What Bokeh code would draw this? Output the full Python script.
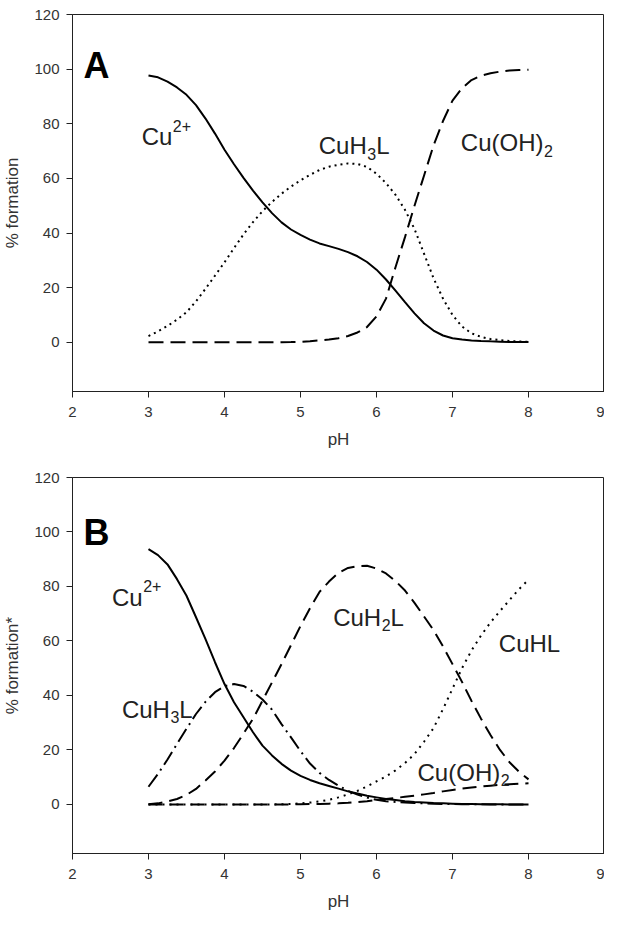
from bokeh.plotting import figure
from bokeh.layouts import column
from bokeh.models import Range1d, FixedTicker, ColumnDataSource
from bokeh.embed import file_html
from bokeh.resources import INLINE
from bokeh.core.properties import value

# ---------------- data (pH grid shared by all curves) ----------------
ph_grid = [3.0, 3.125, 3.25, 3.375, 3.5, 3.625, 3.75, 3.875, 4.0, 4.125,
           4.25, 4.375, 4.5, 4.625, 4.75, 4.875, 5.0, 5.125, 5.25, 5.375,
           5.5, 5.625, 5.75, 5.875, 6.0, 6.125, 6.25, 6.375, 6.5, 6.625,
           6.75, 6.875, 7.0, 7.125, 7.25, 7.375, 7.5, 7.625, 7.75, 7.875, 8.0]

# ---------------- panel A ----------------
a_cu = [97.7, 97.0, 95.4, 93.3, 90.6, 86.8, 81.9, 76.4, 70.5, 65.2,
        60.2, 55.5, 51.2, 47.3, 43.9, 41.3, 39.3, 37.6, 36.2, 35.2,
        34.2, 33.0, 31.5, 29.4, 26.6, 23.0, 18.9, 14.7, 10.6, 7.0,
        4.3, 2.5, 1.5, 1.0, 0.7, 0.5, 0.35, 0.25, 0.15, 0.1, 0.1]
a_cuh3l = [2.3, 4.0, 6.0, 8.3, 11.0, 15.0, 19.6, 24.4, 29.3, 34.5,
           39.5, 44.0, 48.0, 51.4, 54.4, 57.0, 59.3, 61.3, 63.1, 64.3,
           65.0, 65.5, 65.3, 64.2, 61.7, 58.3, 54.0, 48.5, 41.5, 32.5,
           23.5, 16.0, 10.0, 5.8, 3.3, 2.0, 1.2, 0.8, 0.5, 0.3, 0.2]
a_cuoh2 = [0.0, 0.0, 0.0, 0.0, 0.0, 0.0, 0.0, 0.0, 0.0, 0.0,
           0.0, 0.0, 0.0, 0.0, 0.05, 0.1, 0.2, 0.4, 0.7, 1.0,
           1.5, 2.3, 3.6, 5.6, 9.5, 16.0, 27.5, 38.5, 50.0, 61.0,
           72.0, 81.0, 88.5, 93.0, 96.0, 97.6, 98.5, 99.1, 99.5, 99.7, 99.8]

# ---------------- panel B ----------------
b_cu = [93.7, 91.5, 88.1, 82.7, 76.6, 68.7, 60.7, 52.2, 44.2, 37.5,
        32.0, 26.5, 21.6, 18.0, 14.9, 12.4, 10.5, 9.0, 7.8, 6.8,
        5.8, 4.8, 4.0, 3.2, 2.6, 2.0, 1.6, 1.2, 0.9, 0.7,
        0.5, 0.4, 0.3, 0.2, 0.15, 0.1, 0.1, 0.05, 0.0, 0.0, 0.0]
b_cuh3l = [6.5, 11.2, 16.5, 22.2, 27.8, 33.2, 37.7, 41.2, 43.4, 44.2,
           43.5, 41.4, 38.5, 34.8, 29.5, 24.6, 19.6, 15.0, 11.6, 9.0,
           6.9, 5.0, 3.6, 2.5, 1.7, 1.2, 0.9, 0.7, 0.5, 0.4,
           0.3, 0.2, 0.2, 0.1, 0.1, 0.1, 0.0, 0.0, 0.0, 0.0, 0.0]
b_cuh2l = [0.1, 0.4, 1.1, 2.0, 3.5, 5.7, 8.8, 12.1, 16.1, 20.7,
           26.0, 31.4, 38.1, 44.8, 51.5, 58.5, 65.5, 72.0, 78.0, 81.8,
           85.0, 86.8, 87.5, 87.6, 86.6, 84.8, 82.0, 78.5, 74.0, 69.0,
           64.0, 58.0, 51.5, 45.0, 38.0, 31.5, 25.5, 20.0, 15.5, 12.0, 9.2]
b_cuhl = [0.0, 0.0, 0.0, 0.0, 0.0, 0.0, 0.0, 0.0, 0.0, 0.0,
          0.0, 0.0, 0.0, 0.0, 0.1, 0.2, 0.4, 0.7, 1.1, 1.7,
          2.6, 3.7, 5.0, 6.6, 8.5, 10.3, 12.5, 15.2, 18.5, 23.0,
          28.0, 35.0, 42.5, 50.0, 56.5, 62.0, 66.8, 71.0, 75.0, 79.0, 82.5]
b_cuoh2 = [0.0, 0.0, 0.0, 0.0, 0.0, 0.0, 0.0, 0.0, 0.0, 0.0,
           0.0, 0.0, 0.0, 0.0, 0.0, 0.0, 0.1, 0.15, 0.2, 0.3,
           0.4, 0.6, 0.9, 1.2, 1.6, 2.0, 2.4, 2.8, 3.2, 3.7,
           4.2, 4.8, 5.3, 5.8, 6.2, 6.6, 6.9, 7.2, 7.4, 7.6, 7.8]

x_ticks = [2, 3, 4, 5, 6, 7, 8, 9]
y_ticks = [0, 20, 40, 60, 80, 100, 120]

# species labels: (main text, sub/superscript, tail text)
a_names = [("Cu", "2+", ""), ("CuH", "3", "L"), ("Cu(OH)", "2", "")]
a_name_x = [2.91, 5.24, 7.11]
a_name_y = [75.3, 71.9, 73.1]

b_names = [("Cu", "2+", ""), ("CuH", "3", "L"), ("CuH", "2", "L"),
           ("CuHL", "", ""), ("Cu(OH)", "2", "")]
b_name_x = [2.52, 2.65, 5.43, 7.61, 6.54]
b_name_y = [76.0, 35.0, 68.7, 58.9, 11.8]

FONT = "Liberation Sans"
TXT = "#333333"
BIG = 24     # px, species labels
SMALL = 16   # px, sub/superscripts
# Arial / Liberation Sans advance widths (em)
ADV = {"C": 0.722, "u": 0.556, "H": 0.722, "L": 0.556, "(": 0.333,
       "O": 0.778, ")": 0.333, "2": 0.556, "3": 0.556, "+": 0.584}


def text_width(s, size):
    return sum(ADV[c] for c in s) * size


def make_panel(height, left, top, bottom, ylabel, letter, letter_y):
    p = figure(width=604, height=height, output_backend="svg",
               toolbar_location=None, x_range=Range1d(2, 9),
               y_range=Range1d(-18, 120),
               min_border_left=left, min_border_right=0,
               min_border_top=top, min_border_bottom=bottom)
    p.grid.visible = False
    p.background_fill_color = "white"
    p.border_fill_color = "white"
    p.outline_line_color = "#222222"
    p.outline_line_width = 1
    for ax in (p.xaxis, p.yaxis):
        ax.axis_line_color = "#222222"
        ax.major_tick_line_color = "#222222"
        ax.minor_tick_line_color = None
        ax.major_tick_in = 0
        ax.major_tick_out = 6
        ax.major_label_text_font = FONT
        ax.major_label_text_font_size = "15px"
        ax.major_label_text_color = TXT
        ax.axis_label_text_font = FONT
        ax.axis_label_text_font_size = "17px"
        ax.axis_label_text_font_style = "normal"
        ax.axis_label_text_color = TXT
    p.xaxis.ticker = FixedTicker(ticks=x_ticks)
    p.yaxis.ticker = FixedTicker(ticks=y_ticks)
    p.xaxis.axis_label = "pH"
    p.yaxis.axis_label = ylabel
    p.xaxis.major_label_standoff = 9
    p.yaxis.major_label_standoff = 7
    p.xaxis.axis_label_standoff = 10
    p.yaxis.axis_label_standoff = 9
    p.text(x=[2.145], y=[letter_y], text=[letter], text_font=value(FONT),
           text_font_size="36px", text_font_style="bold",
           text_color="black", text_baseline="alphabetic", text_align="left")
    return p


def add_names(p, names, xs, ys):
    px, py, pt, pdx, pdy, psz = [], [], [], [], [], []
    for (main, small, tail), x, y in zip(names, xs, ys):
        px.append(x); py.append(y); pt.append(main)
        pdx.append(0); pdy.append(0); psz.append(f"{BIG}px")
        w = text_width(main, BIG)
        if small:
            raise_px = -11 if "+" in small else 8
            px.append(x); py.append(y); pt.append(small)
            pdx.append(w + 0.5); pdy.append(raise_px); psz.append(f"{SMALL}px")
            w += text_width(small, SMALL) + 0.5
        if tail:
            px.append(x); py.append(y); pt.append(tail)
            pdx.append(w); pdy.append(0); psz.append(f"{BIG}px")
    src = ColumnDataSource(dict(x=px, y=py, t=pt, dx=pdx, dy=pdy, sz=psz))
    p.text(x="x", y="y", text="t", x_offset="dx", y_offset="dy",
           text_font_size="sz", source=src, text_font=value(FONT),
           text_color="#222222", text_baseline="alphabetic", text_align="left")


# ---------------- panel A ----------------
pa = make_panel(457, 68, 14, 66, "% formation", "A", 101.2)
pa.line(ph_grid, a_cu, line_color="black", line_width=2)
pa.line(ph_grid, a_cuh3l, line_color="black", line_width=2, line_dash="2 4")
pa.line(ph_grid, a_cuoh2, line_color="black", line_width=2, line_dash="15 7")
add_names(pa, a_names, a_name_x, a_name_y)

# ---------------- panel B ----------------
pb = make_panel(458, 70, 20, 62, "% formation*", "B", 99.8)
pb.line(ph_grid, b_cu, line_color="black", line_width=2)
pb.line(ph_grid, b_cuh3l, line_color="black", line_width=2, line_dash="15 5 2 5")
pb.line(ph_grid, b_cuh2l, line_color="black", line_width=2, line_dash="14 7")
pb.line(ph_grid, b_cuhl, line_color="black", line_width=2, line_dash="2 5")
pb.line(ph_grid, b_cuoh2, line_color="black", line_width=2, line_dash="14 7")
add_names(pb, b_names, b_name_x, b_name_y)

layout = column(pa, pb, spacing=0)
open("out.html", "w").write(file_html(layout, INLINE))
